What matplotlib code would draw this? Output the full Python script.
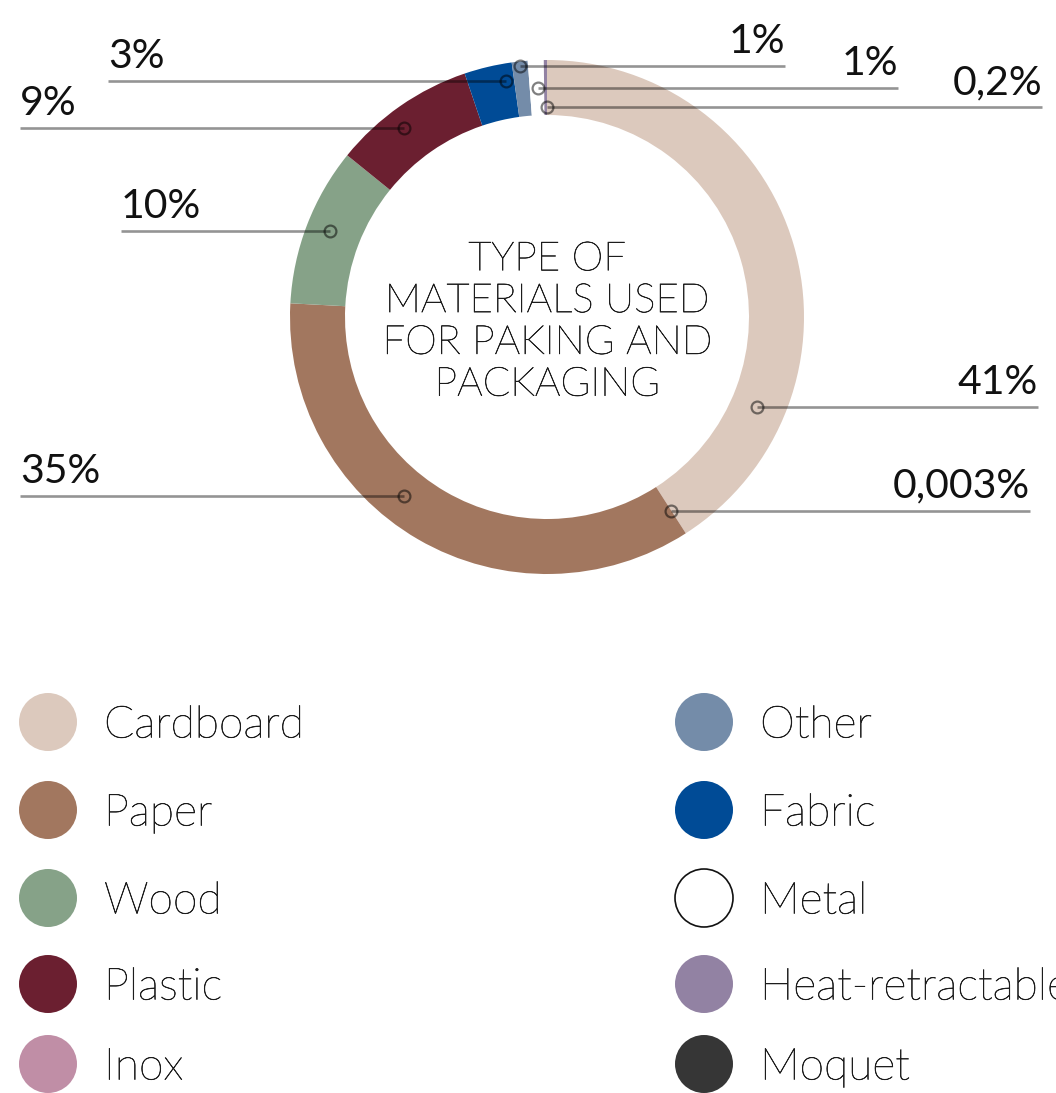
import matplotlib
matplotlib.use("Agg")
import matplotlib.pyplot as plt
from matplotlib.patches import Circle
import matplotlib.patheffects as pe
import numpy as np

# Packaging material shares, in ring order (clockwise from 12 o'clock)
categories = ["Cardboard", "Inox", "Paper", "Wood", "Plastic",
              "Fabric", "Other", "Metal", "Heat-retractable", "Moquet"]
shares = [41, 0.003, 35, 10, 9, 3, 1, 1, 0.2, 0]
share_labels = ["41%", "0,003%", "35%", "10%", "9%", "3%", "1%", "1%", "0,2%", ""]

palette = {
    "Cardboard": "#dcc9bd",
    "Paper": "#a2775f",
    "Wood": "#86a288",
    "Plastic": "#6b1f30",
    "Inox": "#c08ea6",
    "Other": "#748ca9",
    "Fabric": "#004b96",
    "Metal": "#ffffff",
    "Heat-retractable": "#9282a3",
    "Moquet": "#363636",
}

legend_left = ["Cardboard", "Paper", "Wood", "Plastic", "Inox"]
legend_right = ["Other", "Fabric", "Metal", "Heat-retractable", "Moquet"]

title = "TYPE OF\nMATERIALS USED\nFOR PAKING AND\nPACKAGING"

W, H = 1056, 1093
fig = plt.figure(figsize=(W / 100, H / 100), dpi=100)
ax = fig.add_axes([0, 0, 1, 1])

cx, cy = 547, H - 317
R_OUT, RING = 257, 55

ax.pie(shares, colors=[palette[c] for c in categories], startangle=90,
       counterclock=False, radius=R_OUT, center=(cx, cy), frame=True,
       wedgeprops=dict(width=RING, linewidth=0))
ax.set_xlim(0, W)
ax.set_ylim(0, H)
ax.set_aspect("equal")
ax.axis("off")

thin_stroke = [pe.withStroke(linewidth=0.45, foreground="#1c1c1c")]
THIN = dict(family="Lato", fontweight="light", color="#1c1c1c",
            path_effects=thin_stroke)
REGULAR = dict(family="Lato", fontweight="normal", color="#111111")

ax.text(cx, cy - 5, title, ha="center", va="center", fontsize=29,
        linespacing=1.2, **THIN)

# Leader-line layout: anchor angle (deg clockwise from top), anchor radius, line end x
leaders = {
    "Cardboard": (113.2, 228, 1038),
    "Inox": (147.4, 230, 1030),
    "Paper": (218.6, 229, 20),
    "Wood": (291.6, 233, 121),
    "Plastic": (322.9, 237, 20),
    "Fabric": (350.2, 240, 108),
    "Other": (353.9, 252, 785),
    "Metal": (357.7, 229, 898),
    "Heat-retractable": (0.0, 210, 1042),
}

for cat, lab in zip(categories, share_labels):
    if cat not in leaders:
        continue
    ang, r, xend = leaders[cat]
    t = np.deg2rad(ang)
    ax_x = cx + r * np.sin(t)
    ax_y = cy + r * np.cos(t)
    ax.plot([ax_x, xend], [ax_y, ax_y], color="black", alpha=0.42,
            lw=1.9, solid_capstyle="butt", zorder=3)
    ax.plot([ax_x], [ax_y], marker="o", ms=8.5, mfc="none", mec="black",
            mew=1.6, alpha=0.5, zorder=4)
    ha = "left" if xend < ax_x else "right"
    ax.text(xend, ax_y + 13, lab, ha=ha, va="baseline", fontsize=29.5, **REGULAR)

# Custom legend
rows = [722, 810, 898, 984, 1064]
for col_x, text_x, names in [(48, 104, legend_left), (704, 760, legend_right)]:
    for py, name in zip(rows, names):
        fc = palette[name]
        ec = "#111111" if name == "Metal" else fc
        ax.add_patch(Circle((col_x, H - py), 29, facecolor=fc, edgecolor=ec,
                            lw=1.2 if name == "Metal" else 0))
        ax.text(text_x, H - py, name, ha="left", va="center_baseline",
                fontsize=32, **THIN)

fig.savefig("out.png", dpi=100)
